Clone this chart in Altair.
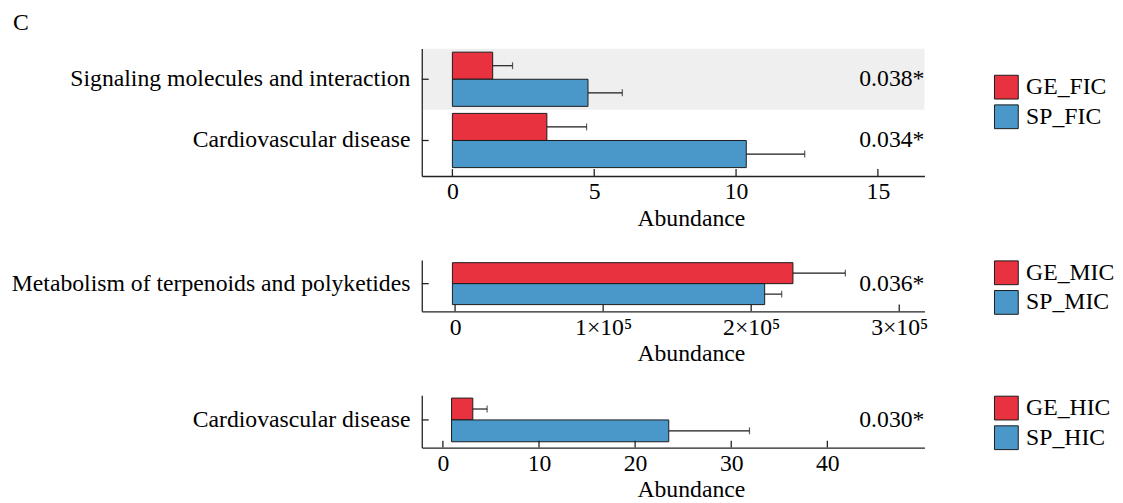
import altair as alt
import pandas as pd

# ---------------- data ----------------
panel_keys = ["FIC", "MIC", "HIC"]
group_prefixes = ["GE", "SP"]
categories = [
    ["Signaling molecules and interaction", "Cardiovascular disease"],
    ["Metabolism of terpenoids and polyketides"],
    ["Cardiovascular disease"],
]
ge_means = [[1.42, 3.33], [228200], [3.11]]
ge_errors = [[0.70, 1.40], [35400], [1.49]]
sp_means = [[4.78, 10.36], [209100], [23.5]]
sp_errors = [[1.21, 2.06], [11500], [8.4]]
p_labels = [["0.038*", "0.034*"], ["0.036*"], ["0.030*"]]
highlighted = [["Signaling molecules and interaction"], [], []]
bar_bases = [0, -1800, 0.9]
x_domains = [[-1.08, 16.64], [-22500, 317000], [-2.2, 50.1]]
x_tick_values = [[0, 5, 10, 15], [0, 100000, 200000, 300000], [0, 10, 20, 30, 40]]
x_tick_labels = [["0", "5", "10", "15"],
                 ["0", "1×10⁵", "2×10⁵", "3×10⁵"],
                 ["0", "10", "20", "30", "40"]]

# ---------------- style ----------------
FONT = "Liberation Serif"
RED = "#E8323F"
BLUE = "#4A97C9"
EDGE = "#1a1a1a"
AX = "#222222"
GREY = "#EFEFEF"
W = 509
heights = [129, 52, 53]
y_outer = [0.04, 0.042, 0.03]
legend_y = [26, 0, 0]


def panel(i):
    key = panel_keys[i]
    groups = [f"{g}_{key}" for g in group_prefixes]
    cats = categories[i]
    H = heights[i]
    rows = []
    for j, c in enumerate(cats):
        for g, m, e in ((groups[0], ge_means[i][j], ge_errors[i][j]),
                        (groups[1], sp_means[i][j], sp_errors[i][j])):
            rows.append({"cat": c, "group": g, "base": bar_bases[i],
                         "value": m, "upper": m + e})
    bars_df = pd.DataFrame(rows)
    cat_df = pd.DataFrame({"cat": cats, "p": p_labels[i]})
    tick_df = pd.DataFrame({"t": x_tick_values[i]})

    label_expr = " : ".join(
        f"datum.value == {v} ? '{l}'" for v, l in zip(x_tick_values[i], x_tick_labels[i])
    ) + " : ''"
    xs = alt.Scale(domain=x_domains[i], nice=False, zero=False)
    xaxis = alt.Axis(values=x_tick_values[i], labelExpr=label_expr, ticks=False,
                     grid=False, domainColor=AX, domainWidth=1.3, labelPadding=4,
                     titlePadding=3, labelFlush=False, labelOverlap=False,
                     titleX=W / 2 + 18, zindex=1)

    def X(field):
        return alt.X(f"{field}:Q", scale=xs, axis=xaxis, title="Abundance")

    ys = alt.Scale(domain=cats, paddingInner=0, paddingOuter=y_outer[i], align=0)
    yaxis = alt.Axis(ticks=False, grid=False, domainColor=AX, domainWidth=1.3,
                     labelPadding=12, labelLimit=0, zindex=1)

    def Y():
        return alt.Y("cat:N", scale=ys, axis=yaxis, title=None)

    yoff = alt.YOffset("group:N", scale=alt.Scale(domain=groups, paddingInner=0,
                                                   paddingOuter=0.13))
    color = alt.Color(
        "group:N",
        scale=alt.Scale(domain=groups, range=[RED, BLUE]),
        legend=alt.Legend(orient="none", legendX=579, legendY=legend_y[i], title=None,
                          symbolType="square", symbolSize=580,
                          symbolStrokeColor=EDGE, symbolStrokeWidth=1,
                          symbolOpacity=1, labelFontSize=24, labelFont=FONT,
                          labelColor="black", rowPadding=0, padding=0,
                          labelOffset=7, labelLimit=0),
    )

    layers = []
    if highlighted[i]:
        hl_df = pd.DataFrame({"cat": highlighted[i]})
        layers.append(alt.Chart(hl_df).mark_rect(color=GREY).encode(
            y=Y(), x=alt.value(0), x2=alt.value(W)))
    layers.append(alt.Chart(bars_df).mark_bar(stroke=EDGE, strokeWidth=1, opacity=1).encode(
        y=Y(), yOffset=yoff, x=X("base"), x2="value", color=color))
    layers.append(alt.Chart(bars_df).mark_rule(color=EDGE, strokeWidth=1.2).encode(
        y=Y(), yOffset=yoff, x=X("value"), x2="upper"))
    layers.append(alt.Chart(bars_df).mark_tick(color=EDGE, thickness=1.2, size=7).encode(
        y=Y(), yOffset=yoff, x=X("upper")))
    layers.append(alt.Chart(cat_df).mark_rule(color=AX, strokeWidth=1.3).encode(
        y=Y(), x=alt.value(0), x2=alt.value(7)))
    layers.append(alt.Chart(tick_df).mark_rule(color=AX, strokeWidth=1.3).encode(
        x=X("t"), y=alt.value(H), y2=alt.value(H - 7)))
    layers.append(alt.Chart(cat_df).mark_text(align="right", baseline="middle",
                                              fontSize=24, font=FONT, color="black").encode(
        y=Y(), x=alt.value(W), text="p:N"))
    return alt.layer(*layers).properties(width=W, height=H)


chart = (
    alt.vconcat(panel(0), panel(1), panel(2), spacing=30)
    .resolve_scale(x="independent", y="independent", color="independent",
                   yOffset="independent")
    .resolve_legend(color="independent")
    .properties(
        title=alt.TitleParams("C", anchor="start", fontSize=24, font=FONT,
                              fontWeight="normal", color="black", offset=14, dx=2),
        padding={"left": 3, "top": 0, "right": 0, "bottom": 0},
    )
    .configure_view(stroke=None)
    .configure_axis(labelFont=FONT, titleFont=FONT, labelFontSize=24, titleFontSize=24,
                    labelColor="black", titleColor="black", titleFontWeight="normal")
)

chart.save("out.html", embed_options={"renderer": "svg", "actions": False})
